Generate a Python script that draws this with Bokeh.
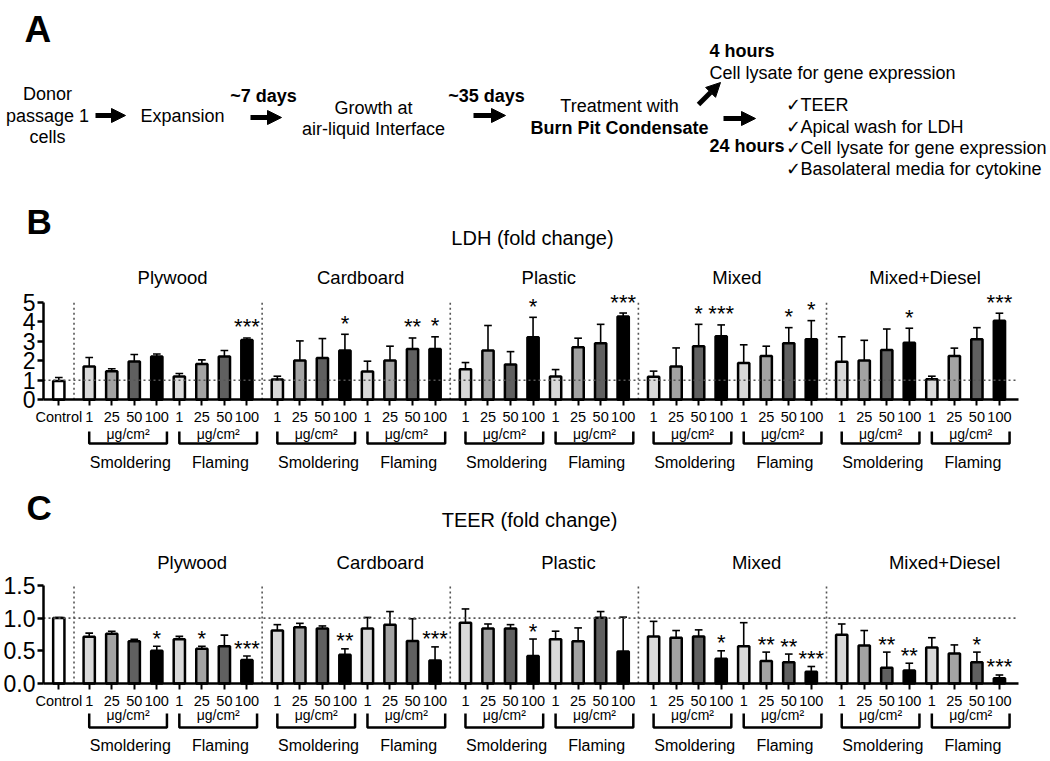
from bokeh.plotting import figure
from bokeh.models import Range1d, LinearAxis, FixedTicker, ColumnDataSource, Arrow, NormalHead
from bokeh.layouts import column
from bokeh.embed import file_html
from bokeh.resources import INLINE
from bokeh.core.properties import value

FONT = "Liberation Sans"

# ---------------- data ----------------
materials = ["Plywood", "Cardboard", "Plastic", "Mixed", "Mixed+Diesel"]
conditions = ["Smoldering", "Flaming"]
doses = ["1", "25", "50", "100"]
dose_unit = "μg/cm²"
control_label = "Control"
dose_colors = ["#d9d9d9", "#a3a3a3", "#606060", "#000000"]

# LDH fold change: per material, 4 smoldering doses then 4 flaming doses
ldh_control = 0.96
ldh_control_err = 0.18
ldh_plywood = [1.71, 1.47, 1.96, 2.22, 1.19, 1.84, 2.22, 3.07]
ldh_cardboard = [1.04, 2.01, 2.15, 2.53, 1.45, 2.01, 2.61, 2.61]
ldh_plastic = [1.57, 2.53, 1.81, 3.21, 1.19, 2.70, 2.90, 4.27]
ldh_mixed = [1.18, 1.71, 2.75, 3.26, 1.89, 2.25, 2.90, 3.11]
ldh_mixed_diesel = [1.95, 2.01, 2.56, 2.92, 1.06, 2.25, 3.11, 4.06]

ldh_plywood_err = [0.46, 0.12, 0.36, 0.13, 0.16, 0.21, 0.31, 0.10]
ldh_cardboard_err = [0.17, 1.01, 0.99, 0.83, 0.53, 0.74, 0.56, 0.62]
ldh_plastic_err = [0.34, 1.28, 0.66, 1.02, 0.36, 0.46, 0.97, 0.18]
ldh_mixed_err = [0.29, 0.95, 1.12, 0.58, 0.93, 0.50, 0.80, 0.95]
ldh_mixed_diesel_err = [1.28, 1.04, 1.07, 0.75, 0.15, 0.40, 0.59, 0.38]

ldh_plywood_sig = ["", "", "", "", "", "", "", "***"]
ldh_cardboard_sig = ["", "", "", "*", "", "", "**", "*"]
ldh_plastic_sig = ["", "", "", "*", "", "", "", "***"]
ldh_mixed_sig = ["", "", "*", "***", "", "", "*", "*"]
ldh_mixed_diesel_sig = ["", "", "", "*", "", "", "", "***"]

# TEER fold change
teer_control = 1.00
teer_control_err = 0.01
teer_plywood = [0.716, 0.76, 0.645, 0.50, 0.675, 0.53, 0.57, 0.36]
teer_cardboard = [0.81, 0.86, 0.84, 0.44, 0.84, 0.90, 0.65, 0.35]
teer_plastic = [0.93, 0.84, 0.84, 0.42, 0.675, 0.645, 1.005, 0.49]
teer_mixed = [0.72, 0.70, 0.72, 0.38, 0.57, 0.345, 0.325, 0.18]
teer_mixed_diesel = [0.746, 0.58, 0.24, 0.20, 0.55, 0.46, 0.325, 0.08]

teer_plywood_err = [0.054, 0.04, 0.03, 0.07, 0.045, 0.04, 0.17, 0.06]
teer_cardboard_err = [0.09, 0.06, 0.04, 0.09, 0.17, 0.20, 0.34, 0.21]
teer_plastic_err = [0.21, 0.07, 0.06, 0.26, 0.125, 0.205, 0.095, 0.525]
teer_mixed_err = [0.23, 0.11, 0.10, 0.12, 0.36, 0.135, 0.125, 0.08]
teer_mixed_diesel_err = [0.164, 0.23, 0.24, 0.11, 0.15, 0.13, 0.155, 0.05]

teer_plywood_sig = ["", "", "", "*", "", "*", "", "***"]
teer_cardboard_sig = ["", "", "", "**", "", "", "", "***"]
teer_plastic_sig = ["", "", "", "*", "", "", "", ""]
teer_mixed_sig = ["", "", "", "*", "", "**", "**", "***"]
teer_mixed_diesel_sig = ["", "", "**", "**", "", "", "*", "***"]

reference_level = 1.0

# ---------------- layout helpers ----------------
PX = 22.53      # pixels per bar slot
X0 = 58.3       # page x of the control bar
GAP = 1.35      # gap between groups (in bar slots)
FIG_W = 1048


def xd(px):
    return (px - X0) / PX


def bar_x(g, j):
    return round(GAP + (8 + GAP - 1) * g + j + 0.0, 4)


def make_panel(letter, title, control, control_err, means, errs, sigs,
               top, height, y0, ppu, ymax, yticks, fmt_labels, sep_top,
               layout):
    def yd(py):
        return (y0 - py) / ppu

    p = figure(width=FIG_W, height=height,
               x_range=Range1d(xd(0), xd(FIG_W)),
               y_range=Range1d(yd(top + height), yd(top)),
               x_axis_type=None, y_axis_type=None,
               toolbar_location=None, output_backend="svg",
               min_border=0, outline_line_color=None)

    xs, tops, cols, etops, sig = [0.0], [control], ["#ffffff"], [control + control_err], [""]
    for g in range(len(materials)):
        for j in range(8):
            xs.append(bar_x(g, j))
            tops.append(means[g][j])
            cols.append(dose_colors[j % 4])
            etops.append(means[g][j] + errs[g][j])
            sig.append(sigs[g][j])
    cap = 0.17
    src = ColumnDataSource(dict(
        x=xs, top=tops, color=cols, etop=etops,
        xl=[x - cap for x in xs], xr=[x + cap for x in xs],
        sig=sig, sy=[e + layout["star_px"] / ppu for e in etops]))

    axis_x = xd(43)
    axis_end = xd(1018)

    # error bars
    p.segment(x0="x", y0="top", x1="x", y1="etop", source=src,
              line_color="black", line_width=1.6)
    p.segment(x0="xl", y0="etop", x1="xr", y1="etop", source=src,
              line_color="black", line_width=1.6)
    # bars
    p.vbar(x="x", top="top", bottom=0, width=0.5, source=src,
           fill_color="color", line_color="black", line_width=2.5)

    # reference dotted line and group separators
    p.segment(x0=[axis_x], y0=[reference_level], x1=[axis_end], y1=[reference_level],
              line_color="#555555", line_width=1.6, line_dash="2 3")
    seps = [(xs[0] + xs[1]) / 2] + [(bar_x(g, 7) + bar_x(g + 1, 0)) / 2 for g in range(len(materials) - 1)]
    p.segment(x0=seps, y0=[0] * len(seps), x1=seps, y1=[sep_top] * len(seps),
              line_color="#555555", line_width=1.6, line_dash="2 3")

    # significance stars
    p.text(x="x", y="sy", text="sig", source=src, text_font=value(FONT),
           text_font_size="22px", text_align="center", text_baseline="middle",
           text_color="black")

    # axes
    yax = LinearAxis(fixed_location=axis_x, bounds=(0, ymax),
                     ticker=FixedTicker(ticks=yticks),
                     major_label_overrides=fmt_labels,
                     axis_line_width=2.5, axis_line_color="black",
                     major_tick_line_width=2.5, major_tick_line_color="black",
                     major_tick_out=6, major_tick_in=0,
                     minor_tick_line_color=None,
                     major_label_text_font=FONT, major_label_text_font_size="23px",
                     major_label_text_color="black", major_label_standoff=2)
    p.add_layout(yax, "left")
    overrides = {0.0: control_label}
    for i, x in enumerate(xs[1:]):
        overrides[x] = doses[i % 4]
    xax = LinearAxis(fixed_location=0, bounds=(axis_x, axis_end),
                     ticker=FixedTicker(ticks=xs),
                     major_label_overrides=overrides,
                     axis_line_width=2.5, axis_line_color="black",
                     major_tick_line_width=2, major_tick_line_color="black",
                     major_tick_out=6, major_tick_in=0,
                     minor_tick_line_color=None,
                     major_label_text_font=FONT, major_label_text_font_size="14.5px",
                     major_label_text_color="black", major_label_standoff=3)
    p.add_layout(xax, "below")

    # brackets, units and condition names
    bxs, bys, ux, cx, cnames = [], [], [], [], []
    b_top, b_bot = yd(layout["br_top"]), yd(layout["br_bot"])
    for g in range(len(materials)):
        for c in range(2):
            a = bar_x(g, 4 * c)
            b = bar_x(g, 4 * c + 3) + 0.45
            bxs.append([a, a, b, b])
            bys.append([b_top, b_bot, b_bot, b_top])
            ux.append((a + b) / 2)
            cx.append((a + b) / 2 + 0.1)
            cnames.append(conditions[c])
    p.multi_line(xs=bxs, ys=bys, line_color="black", line_width=2.5)
    p.text(x=ux, y=[yd(layout["unit_y"])] * len(ux), text=[dose_unit] * len(ux),
           text_font=value(FONT), text_font_size="14px", text_align="center",
           text_baseline="middle", text_color="black")
    p.text(x=cx, y=[yd(layout["cond_y"])] * len(cx), text=cnames,
           text_font=value(FONT), text_font_size="16px", text_align="center",
           text_baseline="middle", text_color="black")

    # group titles
    gx = [(bar_x(g, 0) + bar_x(g, 7)) / 2 + layout["title_dx"] for g in range(len(materials))]
    p.text(x=gx, y=[yd(layout["group_y"])] * len(gx), text=materials,
           text_font=value(FONT), text_font_size="18.5px", text_align="center",
           text_baseline="middle", text_color="black")
    # panel title and letter
    p.text(x=[xd(layout["title_x"])], y=[yd(layout["title_y"])], text=[title],
           text_font=value(FONT), text_font_size="20px", text_align="center",
           text_baseline="middle", text_color="black")
    p.text(x=[xd(26)], y=[yd(layout["letter_y"])], text=[letter],
           text_font=value(FONT), text_font_size="35px", text_font_style="bold",
           text_align="left", text_baseline="middle", text_color="black")
    return p


# ---------------- panel A (workflow diagram) ----------------
pa = figure(width=FIG_W, height=200, x_range=Range1d(0, FIG_W), y_range=Range1d(200, 0),
            x_axis_type=None, y_axis_type=None, toolbar_location=None,
            output_backend="svg", min_border=0, outline_line_color=None)

diagram_text = [
    # text, x, y, bold, align
    ("Donor", 47, 93, False, "center"),
    ("passage 1", 47, 115, False, "center"),
    ("cells", 47, 136, False, "center"),
    ("Expansion", 182, 115, False, "center"),
    ("~7 days", 263, 95, True, "center"),
    ("Growth at", 373, 107, False, "center"),
    ("air-liquid Interface", 373, 128, False, "center"),
    ("~35 days", 486, 95, True, "center"),
    ("Treatment with", 619, 105, False, "center"),
    ("Burn Pit Condensate", 619, 127, True, "center"),
    ("4 hours", 709, 50, True, "left"),
    ("Cell lysate for gene expression", 709, 72, False, "left"),
    ("24 hours", 709, 145, True, "left"),
    ("✓TEER", 785, 104, False, "left"),
    ("✓Apical wash for LDH", 785, 126, False, "left"),
    ("✓Cell lysate for gene expression", 785, 147, False, "left"),
    ("✓Basolateral media for cytokine", 785, 168, False, "left"),
]
for t, x, y, bold, align in diagram_text:
    pa.text(x=[x], y=[y], text=[t], text_font=value(FONT), text_font_size="18px",
            text_font_style="bold" if bold else "normal", text_align=align,
            text_baseline="middle", text_color="black")
pa.text(x=[24], y=[29], text=["A"], text_font=value(FONT), text_font_size="37px",
        text_font_style="bold", text_align="left", text_baseline="middle", text_color="black")

arrows = [((95, 115), (125, 115)), ((250, 117), (281, 117)), ((473, 115), (505, 115)),
          ((723, 118), (755, 118)), ((698, 104), (720, 82))]
for (xs_, ys_), (xe, ye) in arrows:
    pa.add_layout(Arrow(x_start=xs_, y_start=ys_, x_end=xe, y_end=ye, line_width=5,
                        line_color="black",
                        end=NormalHead(size=14, fill_color="black", line_color="black", line_width=1)))

# ---------------- panels B and C ----------------
ldh_means = [ldh_plywood, ldh_cardboard, ldh_plastic, ldh_mixed, ldh_mixed_diesel]
ldh_errs = [ldh_plywood_err, ldh_cardboard_err, ldh_plastic_err, ldh_mixed_err, ldh_mixed_diesel_err]
ldh_sigs = [ldh_plywood_sig, ldh_cardboard_sig, ldh_plastic_sig, ldh_mixed_sig, ldh_mixed_diesel_sig]
teer_means = [teer_plywood, teer_cardboard, teer_plastic, teer_mixed, teer_mixed_diesel]
teer_errs = [teer_plywood_err, teer_cardboard_err, teer_plastic_err, teer_mixed_err, teer_mixed_diesel_err]
teer_sigs = [teer_plywood_sig, teer_cardboard_sig, teer_plastic_sig, teer_mixed_sig, teer_mixed_diesel_sig]

pb = make_panel("B", "LDH (fold change)", ldh_control, ldh_control_err, ldh_means, ldh_errs, ldh_sigs,
                top=200, height=278, y0=399.3, ppu=19.5, ymax=5, yticks=[0, 1, 2, 3, 4, 5],
                fmt_labels={}, sep_top=5.1,
                layout=dict(star_px=11, br_top=431, br_bot=443, unit_y=433, cond_y=462,
                            group_y=277, title_dx=0.2, title_x=532, title_y=237, letter_y=221))

pc = make_panel("C", "TEER (fold change)", teer_control, teer_control_err, teer_means, teer_errs, teer_sigs,
                top=478, height=281, y0=683, ppu=65.4, ymax=1.5, yticks=[0, 0.5, 1, 1.5],
                fmt_labels={0: "0.0", 0.5: "0.5", 1: "1.0", 1.5: "1.5"}, sep_top=1.5,
                layout=dict(star_px=8, br_top=713, br_bot=727, unit_y=714, cond_y=745,
                            group_y=562, title_dx=1.07, title_x=529, title_y=519, letter_y=507))

layout = column(pa, pb, pc)
open("out.html", "w").write(file_html(layout, INLINE))
